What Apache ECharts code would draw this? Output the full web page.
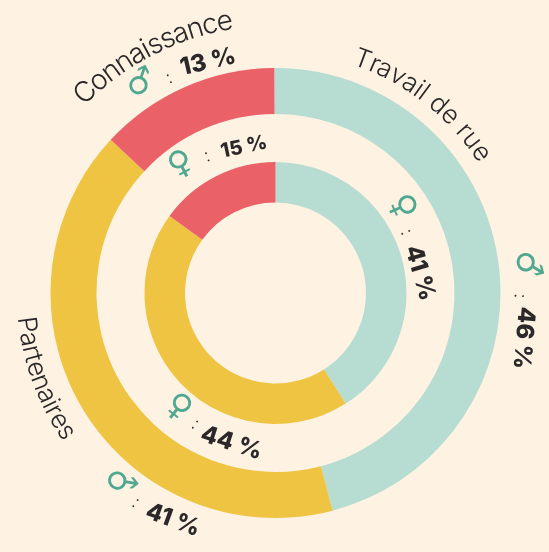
<!DOCTYPE html>
<html><head><meta charset="utf-8">
<style>html,body{margin:0;padding:0;background:#fef2e2}#c{width:549px;height:552px}</style>
<script src="https://cdn.jsdelivr.net/npm/echarts@6/dist/echarts.min.js"></script>
</head><body><div id="c"></div>
<script>
const categories = ['Travail de rue', 'Partenaires', 'Connaissance'];
const maleValues = [46, 41, 13];
const femaleValues = [41, 44, 15];

const MALE = '\u2642', FEMALE = '\u2640';
const colors = ['#b7dcd2', '#efc443', '#ea6168'];
const bg = '#fef2e2', ink = '#2a2829', green = '#4fa88f';
const cx = 275.5, cy = 293;
const sans = 'Inter, sans-serif';

const titleArcs = [
  {from: 18.5, to: 57.5, r: 249, size: 26, flip: false},
  {from: 264.5, to: 235, r: 251, size: 26, flip: true},
  {from: -45.5, to: -9, r: 276, size: 28, flip: false}
];
// offsets from the centre of the rings: symbol, colon, percentage
const maleMarks = [
  {s: [251, -28, 76], c: [244.5, 3, 92], v: [248, 45, 95, 24]},
  {s: [-156.5, 190, 53], c: [-139.5, 209.5, 35], v: [-102.5, 227, 20, 24]},
  {s: [-134.5, -209, -27], c: [-106.5, -215, -25], v: [-67.5, -231, -13, 24]}
];
const femaleMarks = [
  {s: [126, -86, 66], c: [131, -61, 68], v: [144.5, -20, 74, 24]},
  {s: [-97.5, 115, 38], c: [-80, 131, 35], v: [-44, 150, 18, 24]},
  {s: [-94.5, -128, -27], c: [-68.5, -137, -20], v: [-31.5, -146, -12, 20]}
];

const ctx = document.createElement('canvas').getContext('2d');
function txt(text, x, y, deg, font, fill) {
  return {
    type: 'text', x, y, rotation: -deg * Math.PI / 180, silent: true,
    style: {text, font, fill, align: 'center', verticalAlign: 'middle', textAlign: 'center', textVerticalAlign: 'middle'}
  };
}
function arcText(text, a) {
  const font = `300 ${a.size}px ${sans}`;
  ctx.font = font;
  const total = ctx.measureText(text).width;
  const out = [];
  for (let i = 0; i < text.length; i++) {
    const before = ctx.measureText(text.slice(0, i)).width;
    const w = ctx.measureText(text[i]).width;
    const ang = a.from + (a.to - a.from) * (before + w / 2) / total;
    const rad = ang * Math.PI / 180;
    out.push(txt(text[i], cx + a.r * Math.sin(rad), cy - a.r * Math.cos(rad),
      a.flip ? ang - 180 : ang, font, ink));
  }
  return out;
}
function marks(list, values, symbol) {
  const out = [];
  list.forEach((m, i) => {
    out.push(txt(symbol, cx + m.s[0], cy + m.s[1], m.s[2], 'bold 33px "DejaVu Sans"', green));
    out.push(txt(':', cx + m.c[0], cy + m.c[1], m.c[2], '300 18px ' + sans, ink));
    out.push(txt(values[i] + ' %', cx + m.v[0], cy + m.v[1], m.v[2], `800 ${m.v[3]}px ${sans}`, ink));
  });
  return out;
}
function ring(values, radius, startOffset) {
  return {
    type: 'pie', center: [cx, cy], radius, startAngle: 90 - startOffset, clockwise: true,
    silent: true, label: {show: false}, labelLine: {show: false},
    itemStyle: {borderWidth: 0},
    data: categories.map((name, i) => ({name, value: values[i], itemStyle: {color: colors[i]}}))
  };
}
const graphics = [
  ...titleArcs.flatMap((a, i) => arcText(categories[i], a)),
  ...marks(maleMarks, maleValues, MALE),
  ...marks(femaleMarks, femaleValues, FEMALE)
];
const chart = echarts.init(document.getElementById('c'));
chart.setOption({
  backgroundColor: bg, animation: false,
  series: [ring(maleValues, [179, 225], -0.3), ring(femaleValues, [90.5, 131], 0)],
  graphic: graphics
});
</script></body></html>
